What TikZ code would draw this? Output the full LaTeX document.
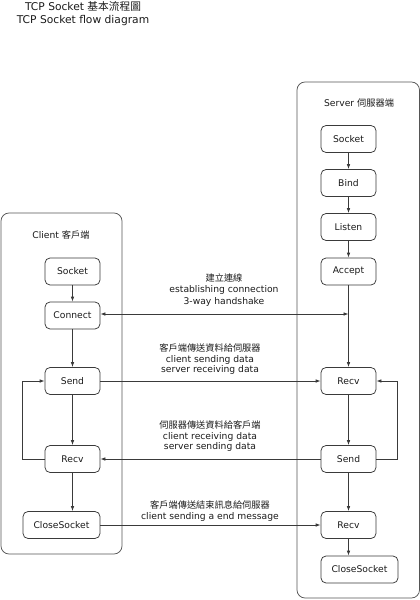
\documentclass[tikz,border=0pt]{standalone}
\usepackage{fontspec}
\setmainfont{DejaVu Sans}
\newfontfamily\cjk{Noto Sans CJK TC}
\usetikzlibrary{arrows.meta}
\definecolor{linegray}{HTML}{3A3A3A}
\definecolor{boxgray}{HTML}{555555}
\definecolor{txt}{HTML}{1A1A1A}
\begin{document}
\begin{tikzpicture}[x=1pt,y=-1pt,
  font=\fontsize{9.2}{10.5}\selectfont, text=txt,
  stepbox/.style={draw=linegray, line width=0.75pt, rounded corners=5pt,
    minimum width=55pt, minimum height=27pt, inner sep=0pt},
  widebox/.style={stepbox, minimum width=77pt},
  flow/.style={draw=linegray, line width=0.75pt, -{Latex[length=5pt,width=3.6pt]}},
  lane/.style={draw=boxgray, line width=0.75pt, rounded corners=8pt},
  lbl/.style={align=center, inner sep=0pt}
]
\useasboundingbox (0,0) rectangle (420,600);

% title
\node[lbl, font=\fontsize{10.7}{13}\selectfont] (title) at (83,13.5)
  {TCP Socket {\cjk 基本流程圖}\\TCP Socket flow diagram};

% lanes
\draw[lane] (1,213) rectangle (122,554);
\draw[lane] (297,82) rectangle (419.5,598);
\node[lbl] (clientlbl) at (61,235) {Client {\cjk 客戶端}};
\node[lbl] (serverlbl) at (359,103) {Server {\cjk 伺服器端}};

% client nodes
\node[stepbox] (csock) at (72.5,271.5) {Socket};
\node[stepbox] (cconn) at (72.5,315.5) {Connect};
\node[stepbox] (csend) at (72.5,381) {Send};
\node[stepbox] (crecv) at (72.5,459) {Recv};
\node[widebox] (cclose) at (61.5,525) {CloseSocket};

% server nodes
\node[stepbox] (ssock) at (348.5,139) {Socket};
\node[stepbox] (sbind) at (348.5,183) {Bind};
\node[stepbox] (slisten) at (348.5,227) {Listen};
\node[stepbox] (saccept) at (348.5,271.5) {Accept};
\node[stepbox] (srecv) at (348.5,381) {Recv};
\node[stepbox] (ssend) at (348.5,459) {Send};
\node[stepbox] (srecv2) at (348.5,525) {Recv};
\node[widebox] (sclose) at (359.5,569.5) {CloseSocket};

% client vertical flow
\draw[flow] (csock) -- (cconn);
\draw[flow] (cconn) -- (csend);
\draw[flow] (csend) -- (crecv);
\draw[flow] (crecv.south) -- (crecv.south |- cclose.north);
\draw[flow] (crecv.west) -- (22,459) -- (22,381) -- (csend.west);

% server vertical flow
\draw[flow] (ssock) -- (sbind);
\draw[flow] (sbind) -- (slisten);
\draw[flow] (slisten) -- (saccept);
\draw[flow] (saccept) -- (srecv);
\draw[flow] (srecv) -- (ssend);
\draw[flow] (ssend) -- (srecv2);
\draw[flow] (srecv2.south) -- (srecv2.south |- sclose.north);
\draw[flow] (ssend.east) -- (397,459) -- (397,381) -- (srecv.east);

% cross messages
\coordinate (hand) at (saccept.south |- 0,314);
\draw[flow, {Latex[length=5pt,width=3.6pt]}-{Latex[length=5pt,width=3.6pt]}] (cconn.east |- hand) -- (hand);
\draw[flow] (csend) -- (srecv);
\draw[flow] (ssend) -- (crecv);
\draw[flow] (cclose.east |- srecv2) -- (srecv2);

% labels
\node[lbl, font=\fontsize{9.2}{11.5}\selectfont] (l1) at (224,290)
  {{\cjk 建立連線}\\establishing connection\\3-way handshake};
\node[lbl] (l2) at (210,359.5)
  {{\cjk 客戶端傳送資料給伺服器}\\client sending data\\server receiving data};
\node[lbl] (l3) at (210,436.5)
  {{\cjk 伺服器傳送資料給客戶端}\\client receiving data\\server sending data};
\node[lbl] (l4) at (210,511)
  {{\cjk 客戶端傳送結束訊息給伺服器}\\client sending a end message};
\end{tikzpicture}
\end{document}
